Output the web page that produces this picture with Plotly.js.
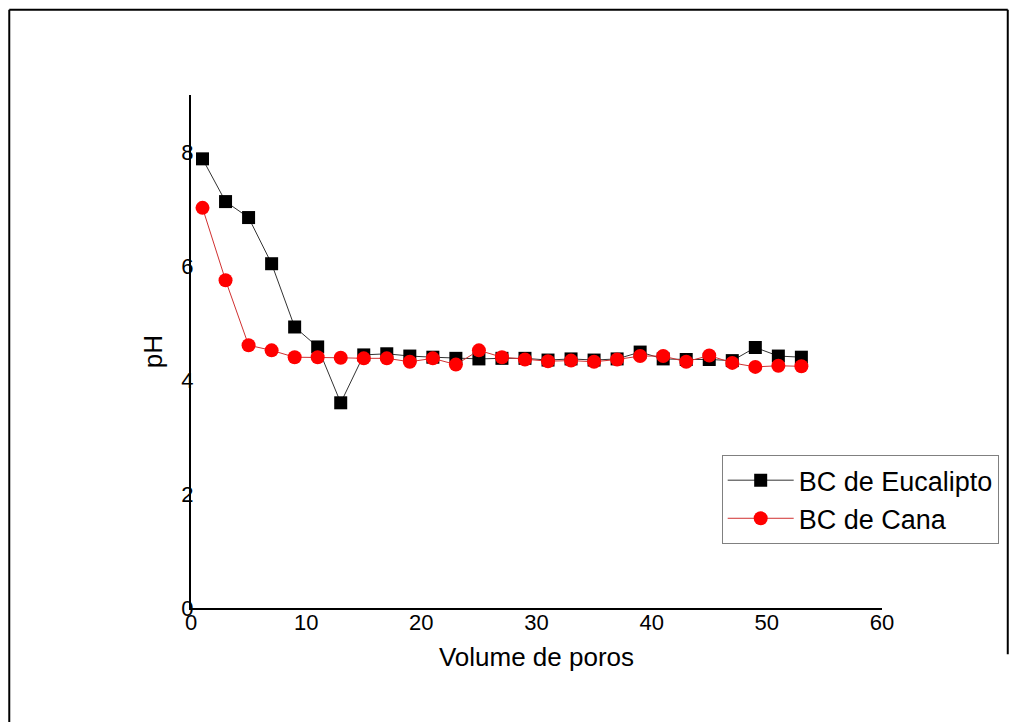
<!DOCTYPE html>
<html>
<head>
<meta charset="utf-8">
<script src="https://cdn.plot.ly/plotly-3.0.1.min.js"></script>
<style>
html,body{margin:0;padding:0;background:#fff;}
#chart{width:1018px;height:722px;}
</style>
</head>
<body>
<div id="chart"></div>
<script>
const volumePoros = [1,3,5,7,9,11,13,15,17,19,21,23,25,27,29,31,33,35,37,39,41,43,45,47,49,51,53];
const phEucalipto = [7.88,7.13,6.85,6.04,4.93,4.58,3.60,4.44,4.46,4.42,4.40,4.38,4.37,4.38,4.38,4.35,4.37,4.35,4.37,4.49,4.37,4.36,4.36,4.34,4.57,4.42,4.40];
const phCana = [7.02,5.75,4.61,4.52,4.40,4.40,4.39,4.38,4.38,4.32,4.38,4.27,4.52,4.40,4.36,4.33,4.34,4.32,4.36,4.42,4.42,4.32,4.43,4.30,4.23,4.25,4.24];
const xTicks = [0,10,20,30,40,50,60];
const yTicks = [0,2,4,6,8];
const seriesNames = ['BC de Eucalipto','BC de Cana'];

const font = 'Arial, Liberation Sans, sans-serif';

const traces = [
  {
    x: volumePoros, y: phEucalipto, name: seriesNames[0],
    type: 'scatter', mode: 'lines+markers',
    line: {color: '#333333', width: 1},
    marker: {symbol: 'square', size: 13, color: '#000000'},
    cliponaxis: false
  },
  {
    x: volumePoros, y: phCana, name: seriesNames[1],
    type: 'scatter', mode: 'lines+markers',
    line: {color: '#d03030', width: 1},
    marker: {symbol: 'circle', size: 14, color: '#ff0000'},
    cliponaxis: false
  }
];

const layout = {
  width: 1018, height: 722,
  margin: {l: 191, r: 136, t: 95, b: 114},
  paper_bgcolor: '#ffffff', plot_bgcolor: '#ffffff',
  showlegend: true,
  font: {family: font, color: '#000', size: 22},
  xaxis: {
    range: [0, 60], tickvals: xTicks, ticktext: xTicks.map(String),
    showgrid: false, zeroline: false, showline: true, linecolor: '#000', linewidth: 2,
    ticks: '', ticklabelstandoff: -6,
    tickfont: {family: font, size: 22, color: '#000'},
    title: {text: 'Volume de poros', font: {family: font, size: 26, color: '#000'}, standoff: 13}
  },
  yaxis: {
    range: [0, 9], tickvals: yTicks, ticktext: yTicks.map(String),
    showgrid: false, zeroline: false, showline: true, linecolor: '#000', linewidth: 2,
    ticks: '', ticklabelstandoff: -9,
    tickfont: {family: font, size: 22, color: '#000'},
    title: {text: 'pH', font: {family: font, size: 26, color: '#000'}, standoff: 11}
  },
  legend: {
    x: 0.768, y: 0.298, xanchor: 'left', yanchor: 'top',
    bgcolor: '#ffffff', bordercolor: '#808080', borderwidth: 1,
    font: {family: font, size: 27, color: '#000'},
    tracegroupgap: 0, itemwidth: 66
  },
  shapes: [
    {type: 'line', xref: 'paper', yref: 'paper', x0: -0.263, x1: 1.182, y0: 1.166, y1: 1.166, line: {color: '#000', width: 2}},
    {type: 'line', xref: 'paper', yref: 'paper', x0: -0.263, x1: -0.263, y0: 1.166, y1: -0.222, line: {color: '#000', width: 2}},
    {type: 'line', xref: 'paper', yref: 'paper', x0: 1.182, x1: 1.182, y0: 1.166, y1: -0.09, line: {color: '#000', width: 2}}
  ]
};

Plotly.newPlot('chart', traces, layout, {displayModeBar: false, staticPlot: true});
</script>
</body>
</html>
